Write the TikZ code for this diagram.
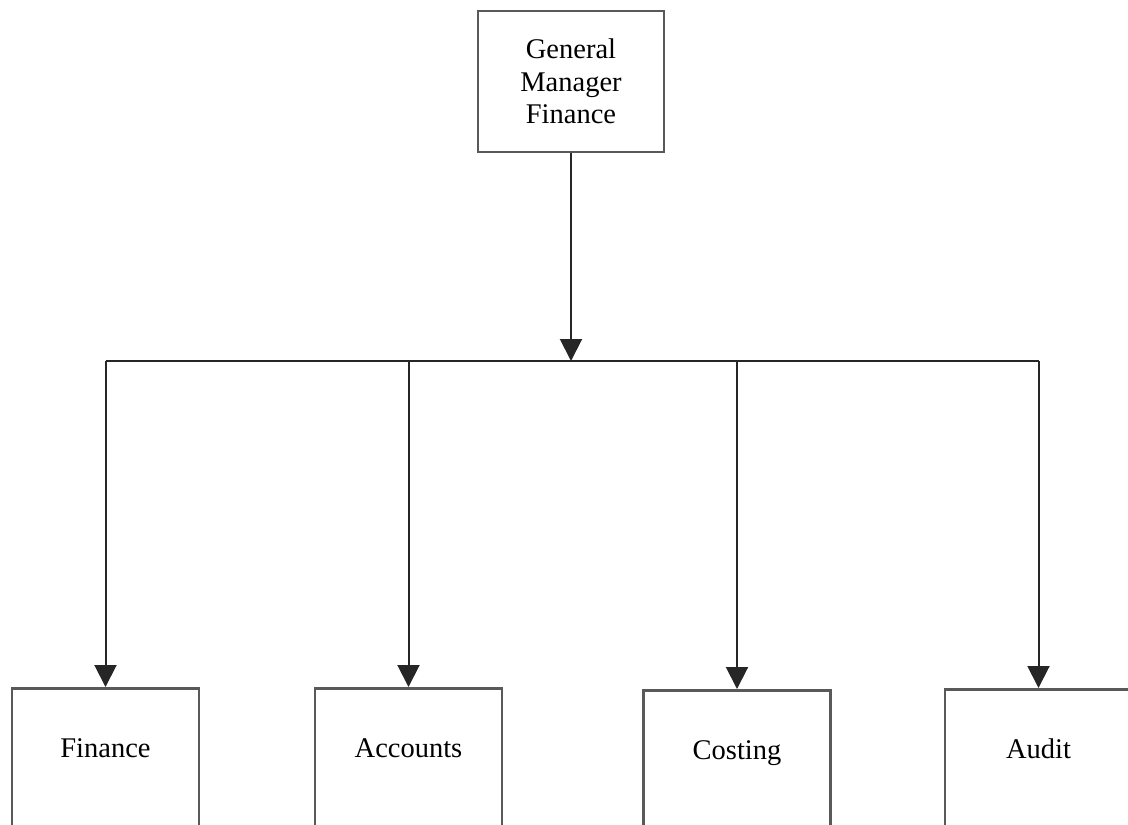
\documentclass[tikz,border=0pt]{standalone}
\usepackage{fontspec}
\setmainfont{Liberation Serif}
\usetikzlibrary{arrows.meta}
\begin{document}
\begin{tikzpicture}[x=1pt,y=-1pt,
  boxstyle/.style={draw=black!65, line width=2.6pt, fill=white, inner sep=0pt,
    font=\fontsize{28.5}{32.5}\selectfont},
  topbox/.style={boxstyle, minimum width=186pt, minimum height=141pt, align=center},
  lowbox/.style={boxstyle, minimum width=187pt, text height=69pt, text depth=150pt, anchor=north},
  conn/.style={draw=black!85, line width=2pt},
  arr/.style={conn, -{Triangle[width=22pt,length=22pt]}}]
\useasboundingbox (0,0) rectangle (1128,825);
\fill[white] (0,0) rectangle (1128,825);
\begin{scope}
\clip (0,0) rectangle (1128,825);
\node[topbox] (gm) at (571,81.5) {General\\Manager\\Finance};
\node[lowbox] (fin) at (105.5,687) {Finance};
\node[lowbox] (acc) at (408.5,687) {Accounts};
\node[lowbox] (cost) at (737,689) {Costing};
\node[lowbox] (aud) at (1038.5,688) {Audit};
\coordinate (j) at (571,361);
\coordinate (l) at (105.5,361);
\coordinate (r) at (1038.5,361);
\coordinate (ja) at (408.5,361);
\coordinate (jc) at (737,361);
\draw[conn] (l) -- (r);
\draw[arr] (gm.south) -- (j);
\draw[arr] (l) -- (fin.north);
\draw[arr] (ja) -- (acc.north);
\draw[arr] (jc) -- (cost.north);
\draw[arr] (r) -- (aud.north);
\end{scope}
\end{tikzpicture}
\end{document}
